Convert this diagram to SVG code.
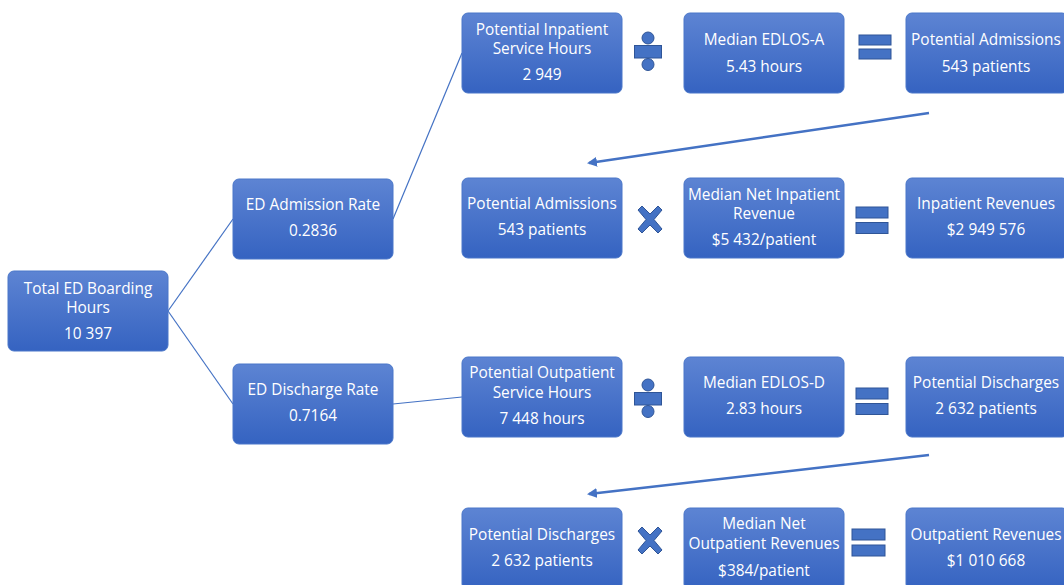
<svg xmlns="http://www.w3.org/2000/svg" width="1064" height="585" viewBox="0 0 1064 585">
<defs>
<linearGradient id="g" x1="0" y1="0" x2="0" y2="1">
<stop offset="0" stop-color="#5d84d3"/>
<stop offset="1" stop-color="#3563c1"/>
</linearGradient>
<marker id="ah" viewBox="0 0 10 10" refX="8" refY="5" markerWidth="4" markerHeight="4" orient="auto-start-reverse">
<path d="M0,0 L10,5 L0,10 z" fill="#4472c4"/>
</marker>
</defs>
<style>
.box{fill:url(#g);stroke:#4a77c9;stroke-width:1}
.t{font-family:"Open Sans","Liberation Sans",sans-serif;font-size:15.4px;fill:#ffffff;text-anchor:middle}
.op{fill:#4472c4;stroke:#2f5597;stroke-width:1}
.ln{stroke:#4472c4;stroke-width:1.2;fill:none}
.ar{stroke:#4472c4;stroke-width:2.5;fill:none;marker-end:url(#ah)}
</style>
<rect width="1064" height="585" fill="#ffffff"/>
<g id="connectors">
<line class="ln" x1="168" y1="311" x2="233" y2="219"/>
<line class="ln" x1="168" y1="311" x2="233" y2="404"/>
<line class="ln" x1="393" y1="219" x2="462" y2="53"/>
<line class="ln" x1="393" y1="404" x2="462" y2="397"/>
<line class="ar" x1="929" y1="113" x2="589" y2="163"/>
<line class="ar" x1="929" y1="455" x2="589" y2="494"/>
</g>
<g id="total">
<rect class="box" x="8" y="271" width="160" height="80" rx="6"/>
<text class="t" x="88" y="294">Total ED Boarding</text>
<text class="t" x="88" y="313">Hours</text>
<text class="t" x="88" y="339">10 397</text>
</g>
<g id="admrate">
<rect class="box" x="233" y="179" width="160" height="80" rx="6"/>
<text class="t" x="313" y="210">ED Admission Rate</text>
<text class="t" x="313" y="236">0.2836</text>
</g>
<g id="disrate">
<rect class="box" x="233" y="364" width="160" height="80" rx="6"/>
<text class="t" x="313" y="395">ED Discharge Rate</text>
<text class="t" x="313" y="421">0.7164</text>
</g>
<g id="pish">
<rect class="box" x="462" y="13" width="160" height="80" rx="6"/>
<text class="t" x="542" y="35">Potential Inpatient</text>
<text class="t" x="542" y="54">Service Hours</text>
<text class="t" x="542" y="80">2 949</text>
</g>
<g id="div1">
<circle class="op" cx="648" cy="38" r="6"/>
<rect class="op" x="634.5" y="45.5" width="27" height="12.5"/>
<circle class="op" cx="648" cy="64.5" r="6"/>
</g>
<g id="edlosa">
<rect class="box" x="684" y="13" width="160" height="80" rx="6"/>
<text class="t" x="764" y="45">Median EDLOS-A</text>
<text class="t" x="764" y="72">5.43 hours</text>
</g>
<g id="eq1">
<rect class="op" x="859" y="35" width="32" height="10"/>
<rect class="op" x="859" y="49" width="32" height="10"/>
</g>
<g id="padm1">
<rect class="box" x="906" y="13" width="162" height="80" rx="6"/>
<text class="t" x="986" y="45">Potential Admissions</text>
<text class="t" x="986" y="72">543 patients</text>
</g>
<g id="padm2">
<rect class="box" x="462" y="178" width="160" height="80" rx="6"/>
<text class="t" x="542" y="209">Potential Admissions</text>
<text class="t" x="542" y="235">543 patients</text>
</g>
<g id="mul1">
<path class="op" d="M638,210 L642,206 L650,214 L658,206 L662,210 L654,219.5 L662,229 L658,233 L650,225 L642,233 L638,229 L646,219.5 Z"/>
</g>
<g id="mnir">
<rect class="box" x="684" y="178" width="160" height="80" rx="6"/>
<text class="t" x="764" y="200">Median Net Inpatient</text>
<text class="t" x="764" y="219">Revenue</text>
<text class="t" x="764" y="245">$5 432/patient</text>
</g>
<g id="eq2">
<rect class="op" x="856" y="207" width="32" height="11"/>
<rect class="op" x="856" y="222.5" width="32" height="11"/>
</g>
<g id="inrev">
<rect class="box" x="906" y="178" width="162" height="80" rx="6"/>
<text class="t" x="986" y="209">Inpatient Revenues</text>
<text class="t" x="986" y="235">$2 949 576</text>
</g>
<g id="posh">
<rect class="box" x="462" y="357" width="160" height="80" rx="6"/>
<text class="t" x="542" y="378">Potential Outpatient</text>
<text class="t" x="542" y="398">Service Hours</text>
<text class="t" x="542" y="424">7 448 hours</text>
</g>
<g id="div2">
<circle class="op" cx="648" cy="385" r="6"/>
<rect class="op" x="634.5" y="392.5" width="27" height="12.5"/>
<circle class="op" cx="648" cy="411.5" r="6"/>
</g>
<g id="edlosd">
<rect class="box" x="684" y="357" width="160" height="80" rx="6"/>
<text class="t" x="764" y="388">Median EDLOS-D</text>
<text class="t" x="764" y="414">2.83 hours</text>
</g>
<g id="eq3">
<rect class="op" x="856" y="388" width="32" height="11"/>
<rect class="op" x="856" y="403.5" width="32" height="11"/>
</g>
<g id="pdis1">
<rect class="box" x="906" y="357" width="162" height="80" rx="6"/>
<text class="t" x="986" y="388">Potential Discharges</text>
<text class="t" x="986" y="414">2 632 patients</text>
</g>
<g id="pdis2">
<rect class="box" x="462" y="508" width="160" height="82" rx="6"/>
<text class="t" x="542" y="540">Potential Discharges</text>
<text class="t" x="542" y="566">2 632 patients</text>
</g>
<g id="mul2">
<path class="op" d="M638,531 L642,527 L650,535 L658,527 L662,531 L654,540.5 L662,550 L658,554 L650,546 L642,554 L638,550 L646,540.5 Z"/>
</g>
<g id="mnor">
<rect class="box" x="684" y="508" width="160" height="82" rx="6"/>
<text class="t" x="764" y="529">Median Net</text>
<text class="t" x="764" y="549">Outpatient Revenues</text>
<text class="t" x="764" y="576">$384/patient</text>
</g>
<g id="eq4">
<rect class="op" x="852" y="529" width="33" height="11"/>
<rect class="op" x="852" y="545" width="33" height="11"/>
</g>
<g id="outrev">
<rect class="box" x="906" y="508" width="162" height="82" rx="6"/>
<text class="t" x="986" y="540">Outpatient Revenues</text>
<text class="t" x="986" y="566">$1 010 668</text>
</g>
</svg>
